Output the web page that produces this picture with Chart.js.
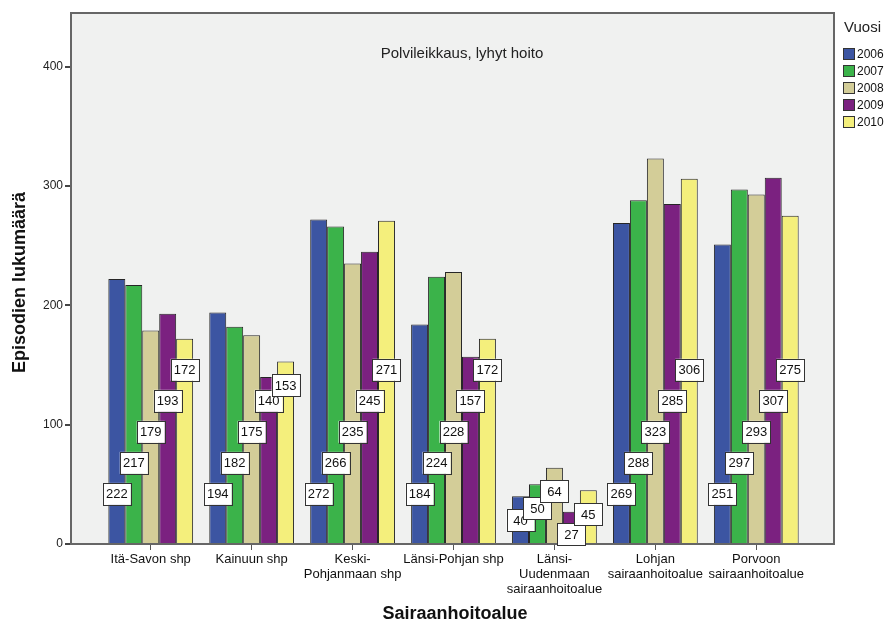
<!DOCTYPE html>
<html>
<head>
<meta charset="utf-8">
<script src="https://cdn.jsdelivr.net/npm/chart.js@4"></script>
<style>
  html, body { margin: 0; padding: 0; background: #fff; }
  #wrap { width: 888px; height: 624px; }
</style>
</head>
<body>
<div id="wrap"><canvas id="GraficaEpisodios" width="888" height="624"></canvas></div>
<script>
// Sairaanhoitoalueet (x-akselin luokat)
const alueet = [
    ['Itä-Savon shp'],
    ['Kainuun shp'],
    ['Keski-', 'Pohjanmaan shp'],
    ['Länsi-Pohjan shp'],
    ['Länsi-', 'Uudenmaan', 'sairaanhoitoalue'],
    ['Lohjan', 'sairaanhoitoalue'],
    ['Porvoon', 'sairaanhoitoalue']
];
const vuodet = ['2006', '2007', '2008', '2009', '2010'];

// Episodien lukumäärä per vuosi
const v2006 = [222, 194, 272, 184, 40, 269, 251];
const v2007 = [217, 182, 266, 224, 50, 288, 297];
const v2008 = [179, 175, 235, 228, 64, 323, 293];
const v2009 = [193, 140, 245, 157, 27, 285, 307];
const v2010 = [172, 153, 271, 172, 45, 306, 275];

const yTicks = [0, 100, 200, 300, 400];
const otsikko = 'Polvileikkaus, lyhyt hoito';

const sarjat = [v2006, v2007, v2008, v2009, v2010];
const colores = ['#3c55a2', '#3bb34a', '#d3cd98', '#7b2180', '#f4ef7c'];

const datasets = sarjat.map(function (serie, i) {
    return {
        label: vuodet[i],
        data: serie.map(function (v, j) { return { x: j, y: v }; }),
        backgroundColor: colores[i],
        borderColor: '#262626',
        borderWidth: 1,
        borderSkipped: 'bottom',
        categoryPercentage: 0.84,
        barPercentage: 1.0
    };
});

// fondo gris del área de la gráfica + marco
const fondoPlugin = {
    id: 'fondo',
    beforeDraw: function (chart) {
        const a = chart.chartArea, ctx = chart.ctx;
        ctx.save();
        ctx.fillStyle = '#f0f1f0';
        ctx.fillRect(a.left, a.top, a.right - a.left, a.bottom - a.top);
        ctx.restore();
    },
    afterDraw: function (chart) {
        const a = chart.chartArea, ctx = chart.ctx;
        ctx.save();
        ctx.strokeStyle = '#666';
        ctx.lineWidth = 2;
        ctx.beginPath();
        ctx.moveTo(a.left, a.top);
        ctx.lineTo(a.right, a.top);
        ctx.lineTo(a.right, a.bottom);
        ctx.stroke();
        ctx.restore();
    }
};

// etiquetas con el valor (cajas blancas escalonadas)
const etiquetasPlugin = {
    id: 'etiquetas',
    afterDatasetsDraw: function (chart) {
        const ctx = chart.ctx, y = chart.scales.y;
        ctx.save();
        ctx.font = '13px Arial, "Liberation Sans", sans-serif';
        ctx.textAlign = 'center';
        ctx.textBaseline = 'middle';
        chart.data.datasets.forEach(function (ds, i) {
            const meta = chart.getDatasetMeta(i);
            meta.data.forEach(function (bar, j) {
                const v = ds.data[j].y;
                const nivel = Math.min(42 + 26 * i, Math.max(v - 20, 8));
                const cy = y.getPixelForValue(nivel);
                const w = 28, h = 22;
                ctx.fillStyle = '#ffffff';
                ctx.fillRect(bar.x - w / 2, cy - h / 2, w, h);
                ctx.strokeStyle = '#333';
                ctx.lineWidth = 1;
                ctx.strokeRect(Math.round(bar.x - w / 2) + 0.5, Math.round(cy - h / 2) + 0.5, w, h);
                ctx.fillStyle = '#111';
                ctx.fillText(String(v), bar.x, cy + 1);
            });
        });
        ctx.restore();
    }
};

// título, títulos de ejes y leyenda
const textosPlugin = {
    id: 'textos',
    afterDraw: function (chart) {
        const ctx = chart.ctx, a = chart.chartArea;
        ctx.save();
        ctx.fillStyle = '#222';
        ctx.textAlign = 'center';
        ctx.textBaseline = 'middle';
        ctx.font = '15px Arial, "Liberation Sans", sans-serif';
        ctx.fillText(otsikko, 462, 54);

        ctx.font = 'bold 18px Arial, "Liberation Sans", sans-serif';
        ctx.fillStyle = '#111';
        ctx.fillText('Sairaanhoitoalue', 455, 614);
        ctx.save();
        ctx.translate(20, (a.top + a.bottom) / 2 + 4);
        ctx.rotate(-Math.PI / 2);
        ctx.fillText('Episodien lukumäärä', 0, 0);
        ctx.restore();

        // leyenda
        ctx.textAlign = 'left';
        ctx.fillStyle = '#222';
        ctx.font = '15px Arial, "Liberation Sans", sans-serif';
        ctx.fillText('Vuosi', 844, 28);
        ctx.font = '12px Arial, "Liberation Sans", sans-serif';
        chart.data.datasets.forEach(function (ds, i) {
            const yy = 54 + i * 17;
            ctx.fillStyle = ds.backgroundColor;
            ctx.fillRect(843, yy - 6, 12, 12);
            ctx.strokeStyle = '#333';
            ctx.lineWidth = 1;
            ctx.strokeRect(843.5, yy - 5.5, 11, 11);
            ctx.fillStyle = '#111';
            ctx.fillText(ds.label, 857, yy + 1);
        });
        ctx.restore();
    }
};

new Chart(document.getElementById('GraficaEpisodios'), {
    type: 'bar',
    data: { datasets: datasets },
    plugins: [fondoPlugin, etiquetasPlugin, textosPlugin],
    options: {
        responsive: false,
        animation: false,
        layout: { padding: { top: 13, right: 54, left: 0, bottom: 0 } },
        plugins: {
            legend: { display: false },
            tooltip: { enabled: false }
        },
        scales: {
            x: {
                type: 'linear',
                offset: false,
                min: -0.79,
                max: 6.77,
                afterFit: function (s) { s.height = 80; },
                afterBuildTicks: function (s) {
                    s.ticks = alueet.map(function (_, j) { return { value: j }; });
                },
                grid: { offset: false, drawOnChartArea: false, drawTicks: true, tickLength: 6, color: '#555', lineWidth: 1 },
                border: { color: '#666', width: 2 },
                ticks: {
                    autoSkip: false,
                    maxRotation: 0,
                    padding: 2,
                    color: '#111',
                    font: { family: 'Arial, "Liberation Sans", sans-serif', size: 13, lineHeight: 1.15 },
                    callback: function (v) { return alueet[v]; }
                }
            },
            y: {
                min: 0,
                max: 445,
                afterFit: function (s) { s.width = 71; },
                afterBuildTicks: function (s) {
                    s.ticks = yTicks.map(function (v) { return { value: v }; });
                },
                grid: { drawOnChartArea: false, drawTicks: true, tickLength: 6, color: '#444', lineWidth: 2 },
                border: { color: '#666', width: 2 },
                ticks: {
                    padding: 2,
                    color: '#222',
                    font: { family: 'Arial, "Liberation Sans", sans-serif', size: 12 }
                }
            }
        }
    }
});
</script>
</body>
</html>
